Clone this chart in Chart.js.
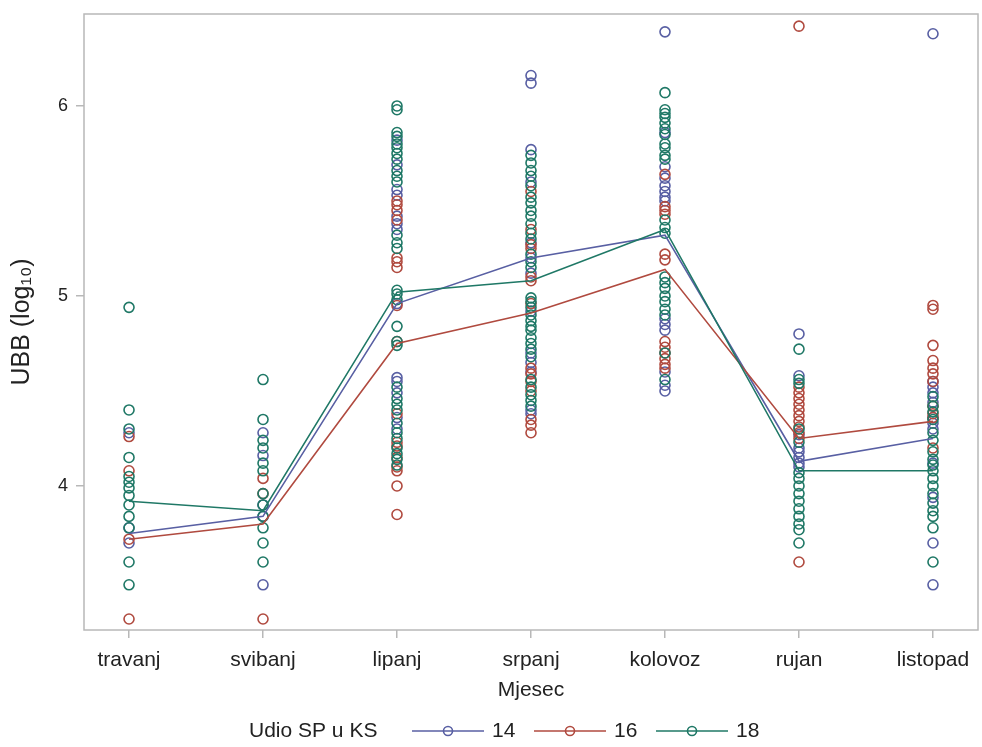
<!DOCTYPE html>
<html>
<head>
<meta charset="utf-8">
<script src="https://cdn.jsdelivr.net/npm/chart.js@4/dist/chart.umd.min.js"></script>
<style>
  html, body { margin: 0; padding: 0; background: #fff; }
  #wrap { width: 982px; height: 747px; }
</style>
</head>
<body>
<div id="wrap"><canvas id="c" width="982" height="747"></canvas></div>
<script>
// Categories (x axis)
const months = ['travanj', 'svibanj', 'lipanj', 'srpanj', 'kolovoz', 'rujan', 'listopad'];
const yTicks = [4, 5, 6];
const seriesNames = ['14', '16', '18'];

const obs14 = [
  [4.28, 3.78, 3.70],
  [4.28, 4.16, 3.90, 3.84, 3.48],
  [5.82, 5.69, 5.56, 5.53, 5.42, 5.38, 5.35, 4.96, 4.57, 4.55, 4.49, 4.36, 4.30],
  [6.16, 6.12, 5.77, 5.60, 5.28, 5.20, 5.12, 4.92, 4.70, 4.65, 4.60, 4.40, 4.38],
  [6.39, 5.86, 5.68, 5.62, 5.58, 5.55, 5.52, 5.50, 4.88, 4.85, 4.82, 4.60, 4.53, 4.50],
  [4.80, 4.58, 4.27, 4.20, 4.18, 4.15, 4.12, 4.10],
  [6.38, 4.55, 4.52, 4.49, 4.44, 4.36, 4.33, 4.30, 4.12, 3.94, 3.70, 3.48]
];
const obs16 = [
  [4.26, 4.08, 3.72, 3.30],
  [4.04, 3.96, 3.30],
  [5.50, 5.48, 5.45, 5.40, 5.20, 5.18, 5.15, 4.95, 4.76, 4.38, 4.23, 4.21, 4.15, 4.10, 4.08, 4.00, 3.85],
  [5.55, 5.35, 5.27, 5.25, 5.10, 5.08, 4.96, 4.62, 4.59, 4.55, 4.50, 4.35, 4.32, 4.28],
  [5.64, 5.47, 5.45, 5.43, 5.22, 5.19, 4.76, 4.73, 4.70, 4.67, 4.64, 4.62],
  [6.42, 4.52, 4.49, 4.46, 4.43, 4.40, 4.37, 4.34, 4.31, 4.28, 4.25, 3.60],
  [4.95, 4.93, 4.74, 4.66, 4.62, 4.59, 4.55, 4.42, 4.38, 4.36, 4.20]
];
const obs18 = [
  [4.94, 4.40, 4.30, 4.15, 4.05, 4.02, 3.99, 3.95, 3.90, 3.84, 3.78, 3.60, 3.48],
  [4.56, 4.35, 4.24, 4.20, 4.12, 4.08, 3.96, 3.90, 3.84, 3.78, 3.70, 3.60],
  [6.00, 5.98, 5.86, 5.84, 5.80, 5.78, 5.75, 5.72, 5.66, 5.63, 5.60, 5.32, 5.28, 5.25, 5.03, 5.01, 4.98, 4.84, 4.76, 4.74, 4.52, 4.46, 4.43, 4.40, 4.33, 4.28, 4.25, 4.20, 4.17, 4.14, 4.11],
  [5.74, 5.70, 5.66, 5.63, 5.58, 5.52, 5.49, 5.45, 5.42, 5.38, 5.33, 5.30, 5.22, 5.18, 5.15, 4.99, 4.97, 4.94, 4.90, 4.87, 4.84, 4.82, 4.78, 4.75, 4.72, 4.68, 4.56, 4.52, 4.48, 4.45, 4.42],
  [6.07, 5.98, 5.96, 5.94, 5.91, 5.88, 5.85, 5.80, 5.78, 5.74, 5.72, 5.40, 5.36, 5.33, 5.10, 5.07, 5.04, 5.00, 4.97, 4.93, 4.90, 4.70, 4.56],
  [4.72, 4.56, 4.54, 4.30, 4.23, 4.07, 4.04, 4.00, 3.96, 3.92, 3.88, 3.84, 3.80, 3.77, 3.70],
  [4.47, 4.42, 4.39, 4.35, 4.28, 4.24, 4.18, 4.14, 4.11, 4.08, 4.04, 4.00, 3.96, 3.91, 3.87, 3.84, 3.78, 3.60]
];

// Monthly means (connected lines)
const mean14 = [3.75, 3.84, 4.96, 5.20, 5.32, 4.13, 4.25];
const mean16 = [3.72, 3.80, 4.75, 4.91, 5.14, 4.25, 4.34];
const mean18 = [3.92, 3.87, 5.02, 5.08, 5.35, 4.08, 4.08];

const colors = ['#585fa3', '#b04a3f', '#1f7866'];
const FONT = '"Liberation Sans", Arial, sans-serif';

function toPoints(obs) {
  const pts = [];
  obs.forEach((vals, i) => vals.forEach(v => pts.push({ x: i, y: v })));
  return pts;
}
function meanPoints(m) { return m.map((v, i) => ({ x: i, y: v })); }

const obsAll = [obs14, obs16, obs18];
const meanAll = [mean14, mean16, mean18];

const datasets = [];
obsAll.forEach((o, k) => datasets.push({
  type: 'scatter', label: seriesNames[k], data: toPoints(o),
  borderColor: colors[k], backgroundColor: 'rgba(0,0,0,0)',
  pointRadius: 5, pointBorderWidth: 1.6, pointHoverRadius: 5, showLine: false, order: 3 - k + 10
}));
meanAll.forEach((m, k) => datasets.push({
  type: 'line', label: 'mean ' + seriesNames[k], data: meanPoints(m),
  borderColor: colors[k], backgroundColor: colors[k], borderWidth: 1.6,
  pointRadius: 0, tension: 0, order: 3 - k
}));

const framePlugin = {
  id: 'frame',
  afterDatasetsDraw(chart) {
    const { ctx, chartArea: a } = chart;
    ctx.save();
    ctx.strokeStyle = '#b8b8b8';
    ctx.lineWidth = 1.5;
    ctx.strokeRect(a.left, a.top, a.right - a.left, a.bottom - a.top);
    ctx.restore();
  }
};

const legendPlugin = {
  id: 'sasLegend',
  afterDraw(chart) {
    const ctx = chart.ctx;
    const y = 731;
    ctx.save();
    ctx.font = '21px ' + FONT;
    ctx.fillStyle = '#222';
    ctx.textBaseline = 'middle';
    ctx.textAlign = 'left';
    ctx.fillText('Udio SP u KS', 249, y);
    let x = 412;
    seriesNames.forEach((name, k) => {
      ctx.strokeStyle = colors[k];
      ctx.lineWidth = 1.6;
      ctx.beginPath(); ctx.moveTo(x, y); ctx.lineTo(x + 72, y); ctx.stroke();
      ctx.beginPath(); ctx.arc(x + 36, y, 4.5, 0, Math.PI * 2); ctx.stroke();
      ctx.fillText(name, x + 80, y);
      x += 122;
    });
    ctx.restore();
  }
};

new Chart(document.getElementById('c'), {
  type: 'scatter',
  data: { datasets },
  options: {
    responsive: false,
    animation: false,
    events: [],
    layout: { autoPadding: false, padding: { left: 0, top: 14, right: 4, bottom: 44 } },
    plugins: { legend: { display: false }, tooltip: { enabled: false } },
    scales: {
      x: {
        type: 'linear', min: -0.336, max: 6.336,
        afterBuildTicks: s => { s.ticks = months.map((m, i) => ({ value: i })); },
        afterFit: s => { s.height = 73; s.paddingLeft = 0; s.paddingRight = 0; },
        ticks: { callback: v => months[v], font: { size: 21, family: FONT }, color: '#222', padding: 10, maxRotation: 0, autoSkip: false },
        grid: { drawOnChartArea: false, drawTicks: true, tickLength: 8, color: '#b8b8b8', lineWidth: 1.5 },
        border: { display: false },
        title: { display: true, text: 'Mjesec', font: { size: 21, family: FONT }, color: '#222', padding: { top: 0, bottom: 0 } }
      },
      y: {
        type: 'linear', min: 3.242, max: 6.484,
        afterBuildTicks: s => { s.ticks = yTicks.map(v => ({ value: v })); },
        afterFit: s => { s.width = 84; s.paddingTop = 0; s.paddingBottom = 0; },
        ticks: { font: { size: 18, family: FONT }, color: '#222', padding: 8 },
        grid: { drawOnChartArea: false, drawTicks: true, tickLength: 8, color: '#b8b8b8', lineWidth: 1.5 },
        border: { display: false },
        title: { display: true, text: 'UBB (log₁₀)', font: { size: 25, family: FONT }, color: '#222', padding: { top: 7, bottom: 0 } }
      }
    }
  },
  plugins: [framePlugin, legendPlugin]
});
</script>
</body>
</html>
